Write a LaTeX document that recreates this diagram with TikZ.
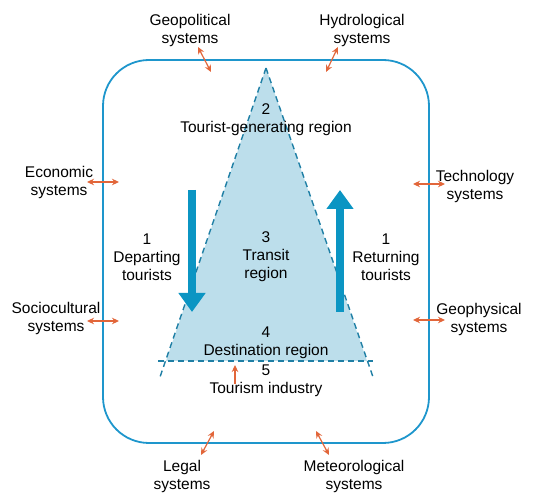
\documentclass[tikz,border=0pt]{standalone}
\usepackage{fontspec}
\setmainfont{Liberation Sans}
\usetikzlibrary{arrows.meta}
\definecolor{boxblue}{HTML}{1E96CC}
\definecolor{regionline}{HTML}{1F7FA5}
\definecolor{regionfill}{HTML}{BCDEEB}
\definecolor{flowblue}{HTML}{0B95C3}
\definecolor{linkorange}{HTML}{E2663A}
\begin{document}
\begin{tikzpicture}[x=1pt,y=-1pt,
  lbl/.style={align=center, font=\fontsize{15.5}{18}\selectfont, inner sep=0pt},
  link/.style={linkorange, line width=1.2pt, {Stealth[length=7pt,width=6.5pt]}-{Stealth[length=7pt,width=6.5pt]}},
  flow/.style={flowblue, line width=8pt, -{Triangle[length=19pt,width=26pt]}},
  regionedge/.style={regionline, line width=1.4pt, dash pattern=on 6pt off 4pt}]
  \useasboundingbox (0,0) rectangle (542,500);
  % environment
  \draw[boxblue, line width=1.8pt, rounded corners=46pt] (103,60) rectangle (429,443);
  % regions
  \coordinate (apex) at (266,68);
  \coordinate (lb) at (166,361);
  \coordinate (rb) at (367,361);
  \fill[regionfill] (apex) -- (lb) -- (rb) -- cycle;
  \draw[regionedge] (apex) -- (160,377);
  \draw[regionedge] (apex) -- (373,377);
  \draw[regionedge] (158,361) -- (373,361);
  % tourist flows
  \coordinate (dtop) at (192,190);
  \coordinate (dtip) at (192,312);
  \coordinate (ubot) at (340,312);
  \coordinate (utip) at (340,190);
  \draw[flow] (dtop) -- (dtip);
  \draw[flow] (ubot) -- (utip);
  \node[lbl] (gen) at (266,120) {2\\Tourist-generating region};
  \node[lbl] (transit) at (266,257) {3\\Transit\\region};
  \node[lbl] (depart) at (147,257) {1\\Departing\\tourists};
  \node[lbl] (return) at (386,257) {1\\Returning\\tourists};
  \node[lbl] (dest) at (266,343) {4\\Destination region};
  \node[lbl] (industry) at (266,381) {5\\Tourism industry};
  \coordinate (ind-1) at (235,384);
  \coordinate (ind-2) at (235,365);
  \draw[linkorange, line width=1.2pt, -{Stealth[length=7pt,width=6.5pt]}] (ind-1) -- (ind-2);
  % outside systems
  \node[lbl] (geo) at (190,30) {Geopolitical\\systems};
  \node[lbl] (hydro) at (362,30) {Hydrological\\systems};
  \node[lbl] (econ) at (59,182) {Economic\\systems};
  \node[lbl] (socio) at (56,318) {Sociocultural\\systems};
  \node[lbl] (tech) at (475,186) {Technology\\systems};
  \node[lbl] (geophys) at (479,319) {Geophysical\\systems};
  \node[lbl] (legal) at (182,476) {Legal\\systems};
  \node[lbl] (meteo) at (354,476) {Meteorological\\systems};
  \coordinate (geo-1) at (198,47);     \coordinate (geo-2) at (211,72);
  \coordinate (hydro-1) at (338,47);   \coordinate (hydro-2) at (326,72);
  \coordinate (econ-1) at (87,182);    \coordinate (econ-2) at (119,182);
  \coordinate (socio-1) at (87,321);   \coordinate (socio-2) at (119,321);
  \coordinate (tech-1) at (413,184);   \coordinate (tech-2) at (445,184);
  \coordinate (geophys-1) at (413,320);\coordinate (geophys-2) at (445,320);
  \coordinate (legal-1) at (214,431);  \coordinate (legal-2) at (201,455);
  \coordinate (meteo-1) at (316,431);  \coordinate (meteo-2) at (329,455);
  \foreach \s in {geo,hydro,econ,socio,tech,geophys,legal,meteo}
    \draw[link] (\s-1) -- (\s-2);
\end{tikzpicture}
\end{document}
